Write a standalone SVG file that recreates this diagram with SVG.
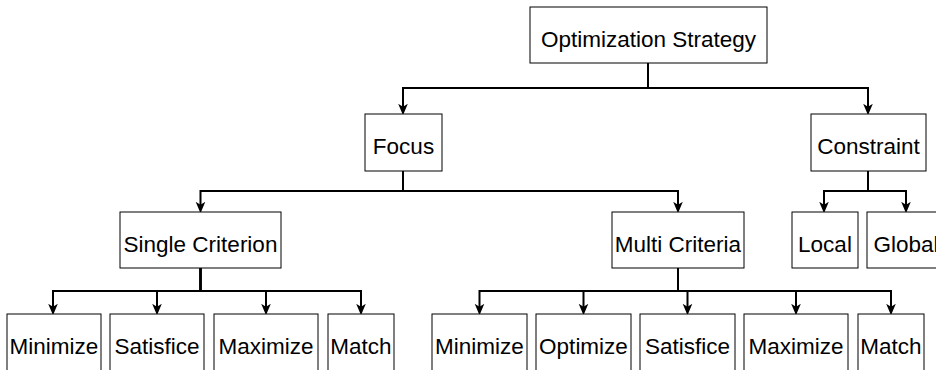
<svg xmlns="http://www.w3.org/2000/svg" width="936" height="370" viewBox="0 0 936 370">
<style>
.box rect{fill:#ffffff;stroke:#000000;stroke-width:1}
.box text{font-family:"Liberation Sans",Arial,sans-serif;font-size:22.5px;text-anchor:middle;fill:#000000}
.edge{fill:none;stroke:#000000;stroke-width:2;marker-end:url(#arrow)}
</style>
<defs>
<marker id="arrow" markerUnits="userSpaceOnUse" markerWidth="12" markerHeight="12" viewBox="0 0 10 10" refX="3.5" refY="5" orient="auto">
<path d="M0,1 L9.5,5 L0,9 L2.5,5 Z" fill="#000000"/>
</marker>
</defs>
<rect width="936" height="370" fill="#ffffff"/>
<g id="connectors">
<path class="edge" d="M648,63 V88 H403 V108"/>
<path class="edge" d="M648,63 V88 H868 V108"/>
<path class="edge" d="M403,171 V191 H200.5 V206"/>
<path class="edge" d="M403,171 V191 H678 V206"/>
<path class="edge" d="M868,171 V191 H824 V206"/>
<path class="edge" d="M868,171 V191 H906 V206"/>
<path class="edge" d="M200.5,268 V291 H53 V308"/>
<path class="edge" d="M200.5,268 V291 H157 V308"/>
<path class="edge" d="M200.5,268 V291 H266 V308"/>
<path class="edge" d="M200.5,268 V291 H361 V308"/>
<path class="edge" d="M678,268 V291 H479.5 V308"/>
<path class="edge" d="M678,268 V291 H583.5 V308"/>
<path class="edge" d="M678,268 V291 H687.5 V308"/>
<path class="edge" d="M678,268 V291 H796 V308"/>
<path class="edge" d="M678,268 V291 H891 V308"/>
</g>
<g id="root" class="box"><rect x="530" y="7" width="237" height="56"/><text x="648.5" y="46.5">Optimization Strategy</text></g>
<g id="focus" class="box"><rect x="365" y="114" width="77" height="57"/><text x="403.5" y="154">Focus</text></g>
<g id="constraint" class="box"><rect x="811" y="114" width="115" height="57"/><text x="868.5" y="154">Constraint</text></g>
<g id="single" class="box"><rect x="120" y="212" width="161" height="56"/><text x="200.5" y="251.5">Single Criterion</text></g>
<g id="multi" class="box"><rect x="612" y="212" width="132" height="56"/><text x="678" y="251.5">Multi Criteria</text></g>
<g id="local" class="box"><rect x="792" y="212" width="66" height="56"/><text x="825" y="251.5">Local</text></g>
<g id="global" class="box"><rect x="867" y="212" width="78" height="56"/><text x="906" y="251.5">Global</text></g>
<g id="s-minimize" class="box"><rect x="7" y="314" width="94" height="57"/><text x="54" y="354">Minimize</text></g>
<g id="s-satisfice" class="box"><rect x="110" y="314" width="94" height="57"/><text x="157" y="354">Satisfice</text></g>
<g id="s-maximize" class="box"><rect x="214" y="314" width="104" height="57"/><text x="266" y="354">Maximize</text></g>
<g id="s-match" class="box"><rect x="328" y="314" width="66" height="57"/><text x="361" y="354">Match</text></g>
<g id="m-minimize" class="box"><rect x="432" y="314" width="95" height="57"/><text x="479.5" y="354">Minimize</text></g>
<g id="m-optimize" class="box"><rect x="536" y="314" width="95" height="57"/><text x="583.5" y="354">Optimize</text></g>
<g id="m-satisfice" class="box"><rect x="640" y="314" width="95" height="57"/><text x="687.5" y="354">Satisfice</text></g>
<g id="m-maximize" class="box"><rect x="744" y="314" width="104" height="57"/><text x="796" y="354">Maximize</text></g>
<g id="m-match" class="box"><rect x="858" y="314" width="66" height="57"/><text x="891" y="354">Match</text></g>
</svg>
